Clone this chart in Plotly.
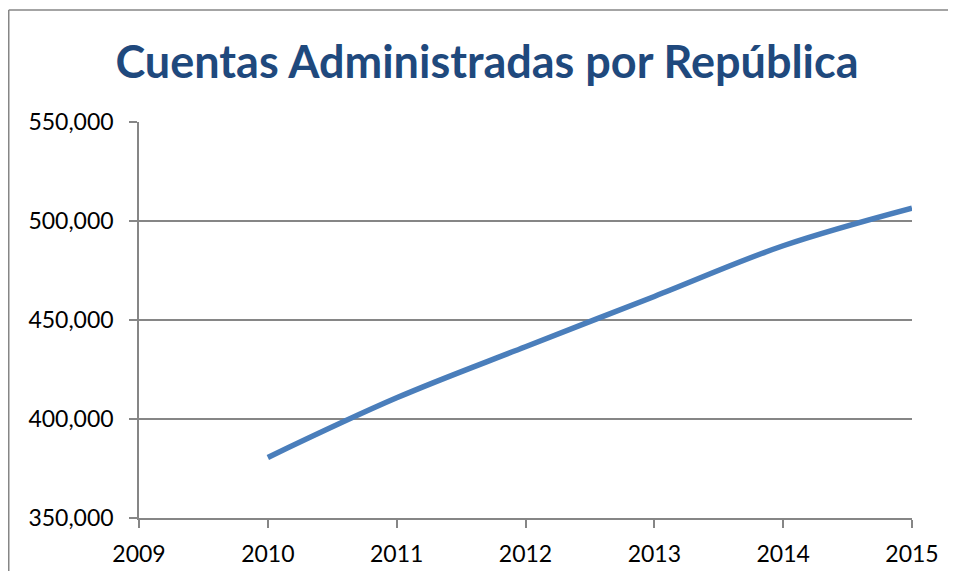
import plotly.graph_objects as go

years = [2010, 2011, 2012, 2013, 2014, 2015]
cuentas = [380600, 410700, 436500, 461900, 487500, 506500]
x_ticks = [2009, 2010, 2011, 2012, 2013, 2014, 2015]
y_ticks = [350000, 400000, 450000, 500000, 550000]
title_text = "Cuentas Administradas por República"

GRAY = "#868686"
# page has an 8px body margin, so the figure is shrunk to fit the window
W, H = 940, 563
L, R, T, B = 131, 36, 114, 53

fig = go.Figure()
fig.add_trace(go.Scatter(
    x=years, y=cuentas, mode="lines",
    line=dict(color="#4A7EBB", width=5.5, shape="spline", smoothing=1.0),
    hoverinfo="x+y", showlegend=False,
))

pw = W - L - R
ph = H - T - B

fig.update_layout(
    width=W, height=H,
    margin=dict(l=L, r=R, t=T, b=B, pad=0, autoexpand=False),
    paper_bgcolor="white", plot_bgcolor="white",
    title=dict(
        text="<b>" + title_text + "</b>",
        font=dict(family="Lato", size=45, color="#1F497D"),
        x=479 / W, xanchor="center", xref="container",
        y=1 - 54 / H, yanchor="middle", yref="container",
    ),
    xaxis=dict(
        range=[2009, 2015], tickvals=x_ticks, ticktext=[str(v) for v in x_ticks],
        showgrid=False, zeroline=False, automargin=False,
        showline=True, linecolor=GRAY, linewidth=1.5,
        ticks="outside", ticklen=8, tickwidth=1.5, tickcolor=GRAY,
        tickfont=dict(family="Lato", size=23, color="black"),
        ticklabelstandoff=7,
    ),
    yaxis=dict(
        range=[350000, 550000], tickvals=y_ticks,
        ticktext=[f"{v:,}" for v in y_ticks],
        showgrid=True, gridcolor=GRAY, gridwidth=1.5, zeroline=False,
        automargin=False,
        showline=True, linecolor=GRAY, linewidth=1.5,
        ticks="outside", ticklen=8, tickwidth=1.5, tickcolor=GRAY,
        tickfont=dict(family="Lato", size=23, color="black"),
        ticklabelstandoff=11,
    ),
)

# chart-area border (top and left edges visible)
x_left = (0.75 - L) / pw
y_top = (H - B - 2) / ph
fig.add_shape(type="line", xref="paper", yref="paper",
              x0=x_left, x1=2, y0=y_top, y1=y_top,
              line=dict(color=GRAY, width=1.5))
fig.add_shape(type="line", xref="paper", yref="paper",
              x0=x_left, x1=x_left, y0=y_top, y1=-2,
              line=dict(color=GRAY, width=1.5))

fig.write_html("out.html")
